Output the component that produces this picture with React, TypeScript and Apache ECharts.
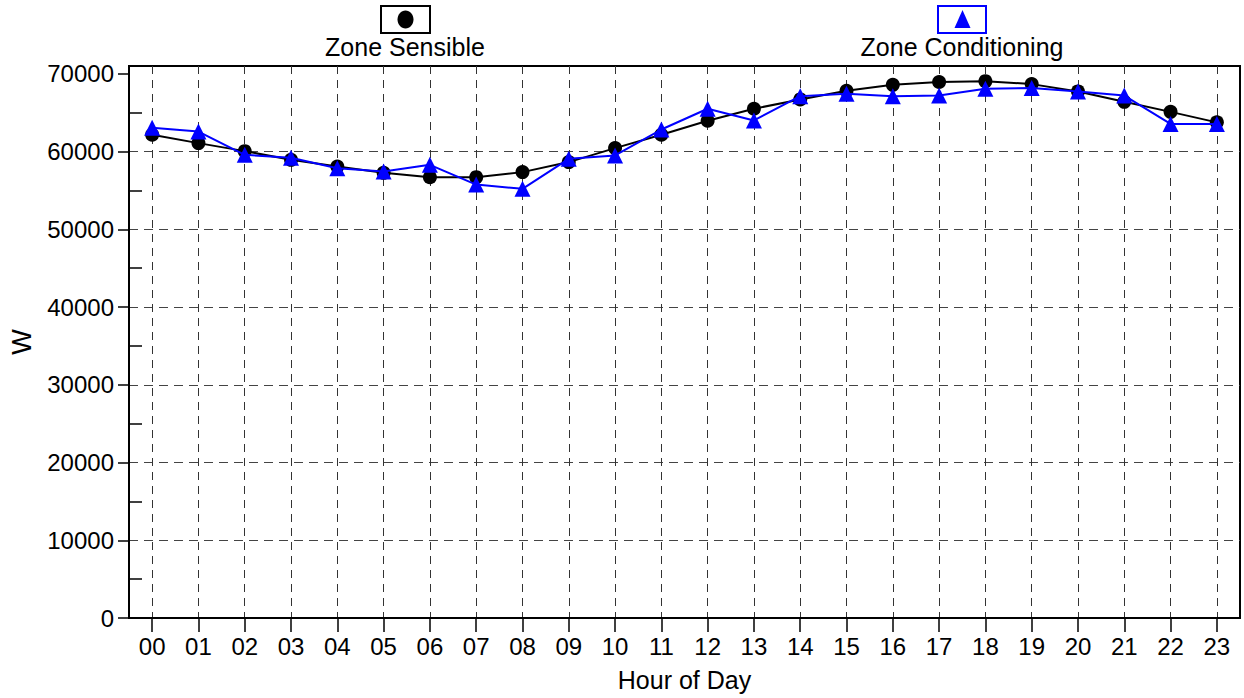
import React, { useEffect, useRef } from 'react';
import * as echarts from 'echarts';

const hours = ['00', '01', '02', '03', '04', '05', '06', '07', '08', '09', '10', '11', '12', '13', '14', '15', '16', '17', '18', '19', '20', '21', '22', '23'];
const zoneSensible = [62150, 61080, 60050, 58930, 58070, 57260, 56700, 56700, 57350, 58640, 60440, 62150, 63950, 65500, 66700, 67810, 68580, 68950, 69050, 68670, 67730, 66390, 65100, 63750];
const zoneConditioning = [63050, 62570, 59580, 59190, 57850, 57430, 58290, 55750, 55200, 59060, 59490, 62830, 65500, 64000, 67120, 67430, 67120, 67200, 68070, 68160, 67730, 67200, 63550, 63550];
const yMajorTicks = [0, 10000, 20000, 30000, 40000, 50000, 60000, 70000];
const yMinorTicks = [5000, 15000, 25000, 35000, 45000, 55000, 65000];
const legendNames = ['Zone Sensible', 'Zone Conditioning'];

const FONT = 'Liberation Sans';

export default function App() {
  const ref = useRef<HTMLDivElement>(null);
  useEffect(() => {
    if (!ref.current) return;
    const chart = echarts.init(ref.current, null, { renderer: 'svg' });
    chart.setOption({
      animation: false,
      backgroundColor: '#ffffff',
      textStyle: { fontFamily: FONT, color: '#000' },
      grid: {
        left: 126,
        top: 66,
        right: 4,
        bottom: 80,
        show: true,
        borderColor: '#000',
        borderWidth: 2,
        backgroundColor: 'transparent',
      },
      xAxis: {
        type: 'category',
        data: hours,
        boundaryGap: true,
        name: 'Hour of Day',
        nameLocation: 'middle',
        nameGap: 49,
        nameTextStyle: { fontSize: 25, color: '#000', fontFamily: FONT },
        axisLine: { show: true, lineStyle: { color: '#000', width: 2 } },
        axisTick: { show: true, alignWithLabel: true, interval: 0, length: 14, lineStyle: { color: '#000', width: 1.5 } },
        axisLabel: { fontSize: 24, color: '#000', margin: 16, interval: 0, fontFamily: FONT },
        splitLine: {
          show: true,
          alignWithLabel: true,
          interval: 0,
          lineStyle: { type: [8, 6], color: '#333', width: 1 },
        },
      },
      yAxis: [
        {
          type: 'value',
          position: 'left',
          min: 0,
          max: 71000,
          interval: 10000,
          name: 'W',
          nameLocation: 'middle',
          nameGap: 94,
          nameTextStyle: { fontSize: 27, color: '#000', fontFamily: FONT },
          axisLine: { show: true, lineStyle: { color: '#000', width: 2 } },
          axisTick: { show: true, length: 11, customValues: yMajorTicks, lineStyle: { color: '#000', width: 1.5 } },
          axisLabel: {
            fontSize: 24,
            color: '#000',
            margin: 15,
            customValues: yMajorTicks,
            fontFamily: FONT,
            formatter: (v: number) => String(v),
          },
          splitLine: { show: true, showMaxLine: false, lineStyle: { type: [9, 6], color: '#444', width: 1 } },
        },
        {
          type: 'value',
          position: 'left',
          min: 0,
          max: 71000,
          interval: 5000,
          axisLine: { show: false },
          axisTick: { show: true, inside: true, length: 13, customValues: yMinorTicks, lineStyle: { color: '#000', width: 1.5 } },
          axisLabel: { show: false },
          splitLine: { show: false },
        },
      ],
      series: [
        {
          name: legendNames[0],
          type: 'line',
          yAxisIndex: 0,
          data: zoneSensible,
          symbol: 'circle',
          symbolSize: 14,
          lineStyle: { color: '#000', width: 2 },
          itemStyle: { color: '#000' },
          z: 3,
        },
        {
          name: legendNames[1],
          type: 'line',
          yAxisIndex: 0,
          data: zoneConditioning,
          symbol: 'triangle',
          symbolSize: 16,
          lineStyle: { color: '#0000ff', width: 2 },
          itemStyle: { color: '#0000ff' },
          z: 4,
        },
      ],
      graphic: [
        { type: 'rect', shape: { x: 381, y: 6, width: 49, height: 27 }, style: { fill: '#fff', stroke: '#000', lineWidth: 2 } },
        { type: 'ellipse', shape: { cx: 405.5, cy: 19.5, rx: 8, ry: 9 }, style: { fill: '#000' } },
        {
          type: 'text', x: 405, y: 47,
          style: { text: legendNames[0], fontSize: 25, fontFamily: FONT, fill: '#000', align: 'center', verticalAlign: 'middle' },
        },
        { type: 'rect', shape: { x: 938, y: 6, width: 48, height: 27 }, style: { fill: '#fff', stroke: '#0000ff', lineWidth: 2 } },
        { type: 'polygon', shape: { points: [[962.5, 10], [954.5, 28], [970.5, 28]] }, style: { fill: '#0000ff' } },
        {
          type: 'text', x: 962, y: 47,
          style: { text: legendNames[1], fontSize: 25, fontFamily: FONT, fill: '#000', align: 'center', verticalAlign: 'middle' },
        },
      ],
    });
    return () => chart.dispose();
  }, []);
  return <div ref={ref} style={{ position: 'fixed', left: 0, top: 0, width: 1244, height: 698 }} />;
}
